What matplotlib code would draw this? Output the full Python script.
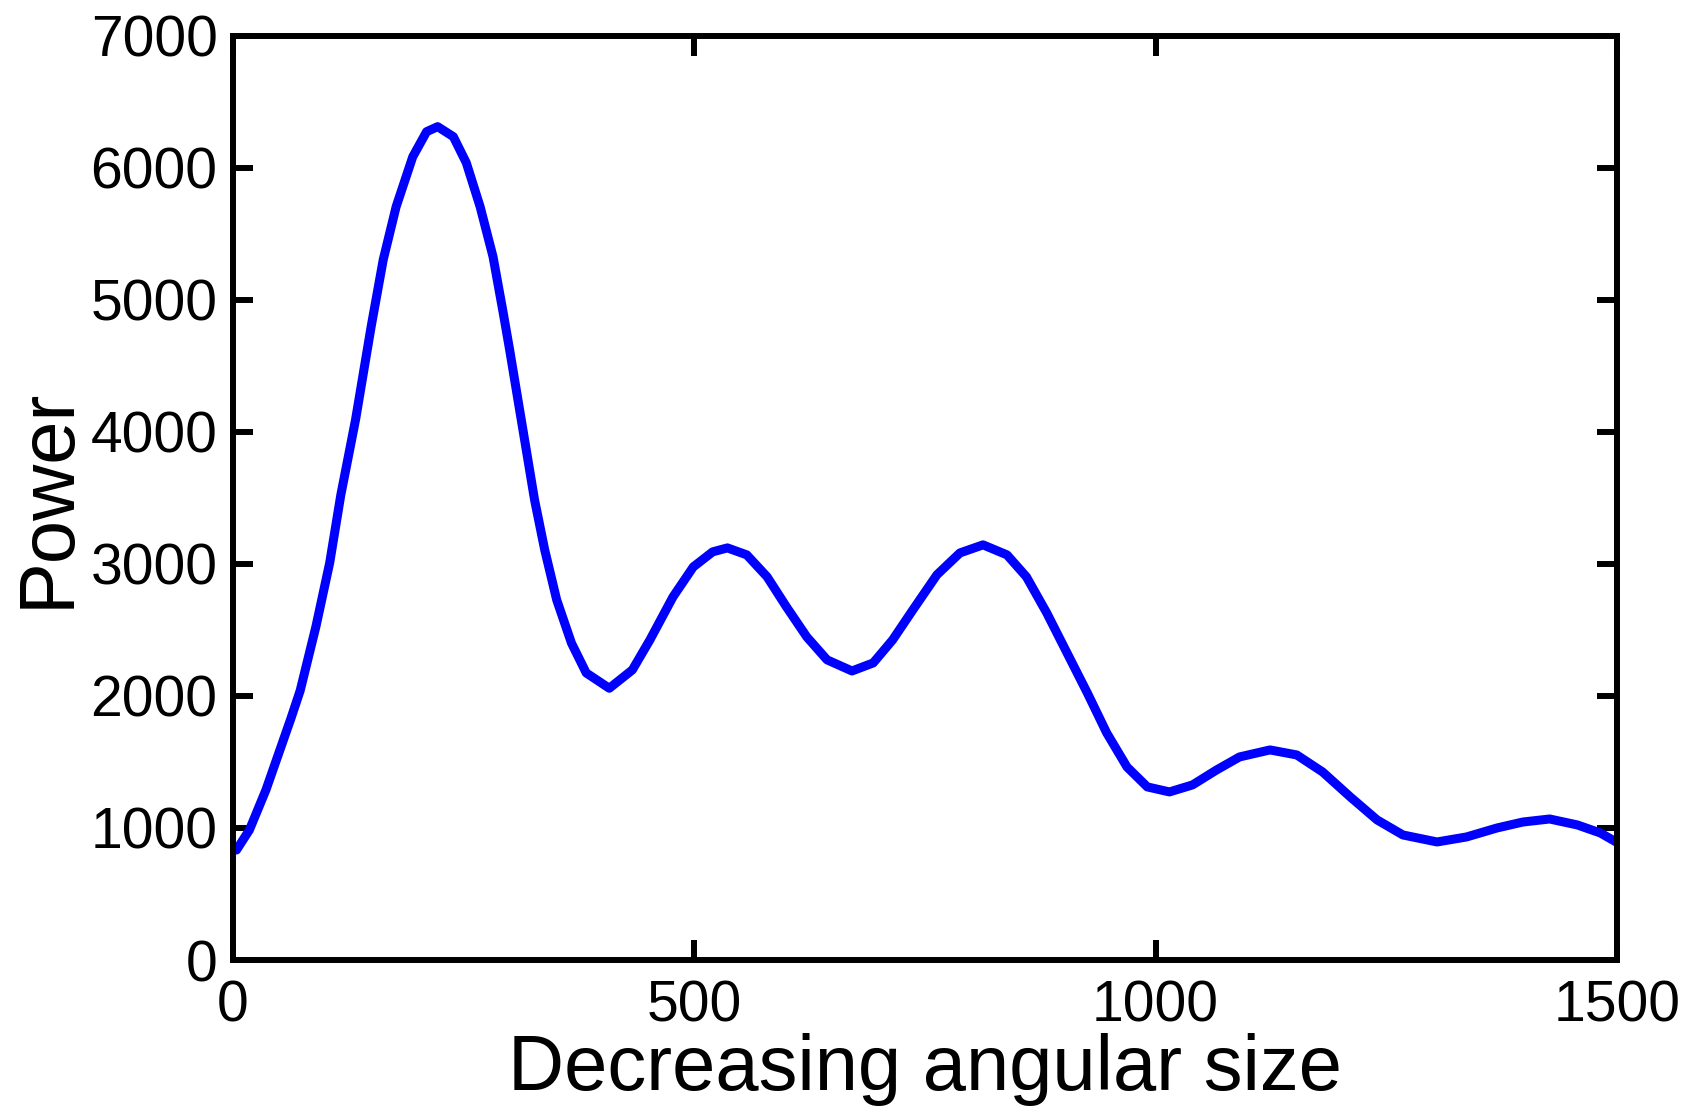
import matplotlib
matplotlib.use('Agg')
import matplotlib.pyplot as plt

# curve (x = decreasing angular size, y = power)
angle = [0, 4, 18, 36, 51, 63, 73, 90, 105, 117, 133, 150, 163, 177, 195,
         210, 222, 239, 253, 268, 282, 293, 300, 309, 318, 327, 338, 351,
         367, 383, 408, 433, 452, 477, 499, 520, 536, 557, 579, 600, 622,
         644, 671, 694, 715, 737, 763, 788, 813, 839, 860, 882, 904, 926,
         947, 969, 991, 1015, 1040, 1066, 1091, 1124, 1153, 1181, 1211, 1240,
         1268, 1305, 1337, 1370, 1398, 1427, 1457, 1482, 1500]
power = [848, 833, 985, 1290, 1590, 1830, 2040, 2523, 3008, 3520, 4091,
         4800, 5303, 5705, 6083, 6273, 6311, 6235, 6038, 5705, 5326, 4902,
         4621, 4242, 3864, 3485, 3106, 2727, 2400, 2174, 2058, 2197, 2424,
         2750, 2977, 3091, 3121, 3068, 2902, 2674, 2447, 2273, 2189, 2250,
         2424, 2652, 2917, 3083, 3144, 3068, 2902, 2629, 2326, 2023, 1720,
         1462, 1311, 1273, 1326, 1439, 1538, 1591, 1553, 1424, 1235, 1061,
         947, 894, 932, 1000, 1045, 1068, 1023, 962, 890]

xticks = [0, 500, 1000, 1500]
yticks = [0, 1000, 2000, 3000, 4000, 5000, 6000, 7000]

plt.rcParams['font.family'] = ['Liberation Sans', 'DejaVu Sans']

fig = plt.figure(figsize=(16.87, 11.15), dpi=100)
ax = fig.add_axes([0.138, 0.139, 0.8205, 0.829])

ax.plot(angle, power, color='#0000ff', lw=6.5, solid_joinstyle='round',
        solid_capstyle='butt')

ax.set_xlim(0, 1500)
ax.set_ylim(0, 7000)
ax.set_xticks(xticks)
ax.set_yticks(yticks)
ax.set_xticklabels([str(t) for t in xticks])
ax.set_yticklabels([str(t) for t in yticks])

for s in ax.spines.values():
    s.set_linewidth(4.3)
ax.tick_params(direction='in', length=14.5, width=4.3, top=True, right=True,
               labelsize=41)
ax.tick_params(axis='x', pad=14)
ax.tick_params(axis='y', pad=11)

ax.set_xlabel('Decreasing angular size', fontsize=56, labelpad=0)
ax.set_ylabel('Power', fontsize=56, labelpad=4)

fig.savefig('out.png', dpi=100)
